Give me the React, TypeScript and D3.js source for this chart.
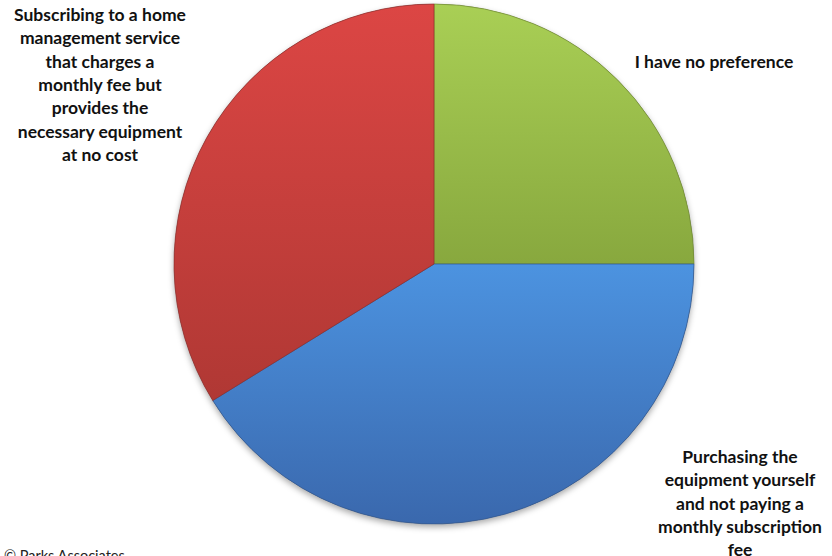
import { useEffect, useRef } from "react";
import * as d3 from "d3";

// slices in clockwise order from 12 o'clock
const categories = [
  "I have no preference",
  "Purchasing the equipment yourself and not paying a monthly subscription fee",
  "Subscribing to a home management service that charges a monthly fee but provides the necessary equipment at no cost",
];
const values = [25, 41.2, 33.8];
const labelLines = [
  ["I have no preference"],
  ["Purchasing the", "equipment yourself", "and not paying a", "monthly subscription", "fee"],
  ["Subscribing to a home", "management service", "that charges a", "monthly fee but", "provides the", "necessary equipment", "at no cost"],
];
const topColours = ["#a9cf55", "#4c93e0", "#dc4644"];
const bottomColours = ["#88a83e", "#3a68ad", "#b03834"];

export default function App() {
  const svgRef = useRef<SVGSVGElement>(null);

  useEffect(() => {
    if (!svgRef.current) return;
    const width = 832;
    const height = 556;
    const cx = 434;
    const cy = 264;
    const radius = 260;

    const svg = d3.select(svgRef.current);
    svg.selectAll("*").remove();
    svg.attr("width", width).attr("height", height);

    const defs = svg.append("defs");
    topColours.forEach((c, i) => {
      const grad = defs.append("linearGradient")
        .attr("id", `grad${i}`)
        .attr("x1", 0).attr("y1", 0)
        .attr("x2", 0).attr("y2", 1);
      grad.append("stop").attr("offset", "0%").attr("stop-color", c);
      grad.append("stop").attr("offset", "100%").attr("stop-color", bottomColours[i]);
    });
    const shadow = defs.append("filter")
      .attr("id", "shadow")
      .attr("x", "-10%").attr("y", "-10%")
      .attr("width", "120%").attr("height", "120%");
    shadow.append("feDropShadow")
      .attr("dx", 0).attr("dy", 3)
      .attr("stdDeviation", 3)
      .attr("flood-color", "#000")
      .attr("flood-opacity", 0.35);

    const pie = d3.pie<number>().sort(null).value(d => d);
    const arcs = pie(values);
    const arc = d3.arc<d3.PieArcDatum<number>>()
      .innerRadius(0)
      .outerRadius(radius);

    const g = svg.append("g")
      .attr("transform", `translate(${cx},${cy})`);

    g.append("circle")
      .attr("r", radius)
      .attr("fill", "#666")
      .attr("filter", "url(#shadow)");

    g.selectAll("path")
      .data(arcs)
      .enter()
      .append("path")
      .attr("d", arc)
      .attr("fill", (_, i) => `url(#grad${i})`)
      .attr("stroke", (_, i) => d3.color(bottomColours[i])!.darker(0.5).formatHex())
      .attr("stroke-width", 0.7)
      .append("title")
      .text((_, i) => categories[i]);

    // label anchor points (centre of the first line)
    const labelPos: [number, number][] = [
      [714, 62],
      [740, 457],
      [100, 15],
    ];
    const lineHeight = 23.3;

    labelLines.forEach((lines, i) => {
      const t = svg.append("text")
        .attr("text-anchor", "middle")
        .attr("font-family", "Lato, 'Open Sans', sans-serif")
        .attr("font-weight", "bold")
        .attr("font-size", 17.5)
        .attr("fill", "#111");
      lines.forEach((line, j) => {
        t.append("tspan")
          .attr("x", labelPos[i][0])
          .attr("y", labelPos[i][1] + j * lineHeight)
          .attr("dy", "0.35em")
          .text(line);
      });
    });

    svg.append("text")
      .attr("x", 4)
      .attr("y", 561)
      .attr("font-family", "Lato, 'Open Sans', sans-serif")
      .attr("font-size", 14.5)
      .attr("fill", "#222")
      .text("© Parks Associates");
  }, []);

  return (
    <div style={{ position: "absolute", left: 0, top: 0 }}>
      <svg ref={svgRef} style={{ display: "block" }}></svg>
    </div>
  );
}
